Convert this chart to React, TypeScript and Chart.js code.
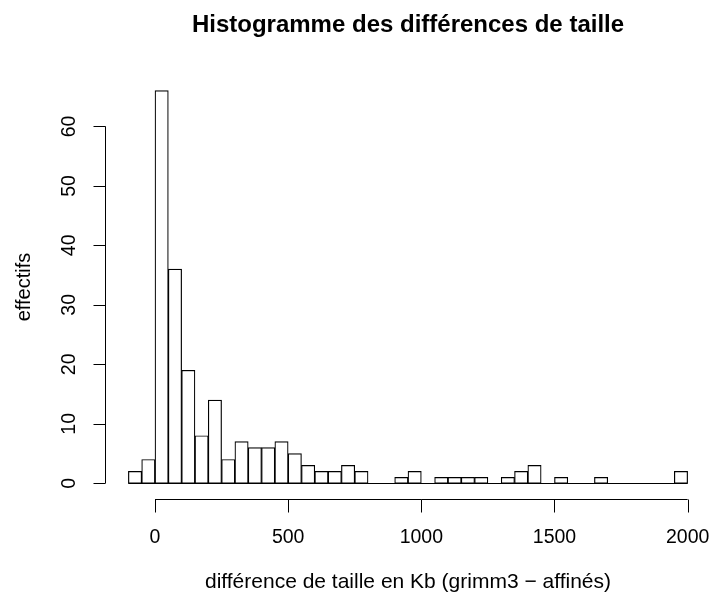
import React, { useEffect, useRef } from "react";
import { Chart, registerables } from "chart.js";

Chart.register(...registerables);

const binStarts = [
  -100, -50, 0, 50, 100, 150, 200, 250, 300, 350, 400, 450, 500, 550, 600, 650,
  700, 750, 800, 850, 900, 950, 1000, 1050, 1100, 1150, 1200, 1250, 1300, 1350,
  1400, 1450, 1500, 1550, 1600, 1650, 1700, 1750, 1800, 1850, 1900, 1950,
];
const counts = [
  2, 4, 66, 36, 19, 8, 14, 4, 7, 6, 6, 7, 5, 3, 2, 2,
  3, 2, 0, 0, 1, 2, 0, 1, 1, 1, 1, 0, 1, 2,
  3, 0, 1, 0, 0, 1, 0, 0, 0, 0, 0, 2,
];
const binWidth = 50;
const xTicks = [0, 500, 1000, 1500, 2000];
const yTicks = [0, 10, 20, 30, 40, 50, 60];
const titleText = "Histogramme des différences de taille";
const xTitle = "différence de taille en Kb (grimm3 − affinés)";
const yTitle = "effectifs";

const FONT = "'Liberation Sans', Arial, Helvetica, sans-serif";

export default function App() {
  const ref = useRef<HTMLCanvasElement | null>(null);

  useEffect(() => {
    const canvas = ref.current;
    if (!canvas) return;

    const rAxes = {
      id: "rAxes",
      afterDraw(chart: any) {
        const ctx = chart.ctx as CanvasRenderingContext2D;
        const xs = chart.scales.x;
        const ys = chart.scales.y;
        const area = chart.chartArea;
        ctx.save();
        ctx.strokeStyle = "#000";
        ctx.fillStyle = "#000";
        ctx.lineWidth = 1;

        // baseline under histogram
        const firstEdge = binStarts[0];
        const lastEdge = binStarts[binStarts.length - 1] + binWidth;
        const y0 = Math.round(ys.getPixelForValue(0)) + 0.5;
        ctx.beginPath();
        ctx.moveTo(xs.getPixelForValue(firstEdge), y0);
        ctx.lineTo(xs.getPixelForValue(lastEdge), y0);
        ctx.stroke();

        // x axis
        const ax = Math.round(area.bottom) + 0.5;
        ctx.beginPath();
        ctx.moveTo(xs.getPixelForValue(xTicks[0]), ax);
        ctx.lineTo(xs.getPixelForValue(xTicks[xTicks.length - 1]), ax);
        xTicks.forEach((t) => {
          const px = Math.round(xs.getPixelForValue(t)) + 0.5;
          ctx.moveTo(px, ax);
          ctx.lineTo(px, ax + 13);
        });
        ctx.stroke();
        ctx.font = `19.5px ${FONT}`;
        ctx.textAlign = "center";
        ctx.textBaseline = "alphabetic";
        xTicks.forEach((t) => {
          ctx.fillText(String(t), xs.getPixelForValue(t), 543);
        });

        // y axis
        const ay = Math.round(area.left) - 0.5;
        ctx.beginPath();
        ctx.moveTo(ay, ys.getPixelForValue(yTicks[0]));
        ctx.lineTo(ay, ys.getPixelForValue(yTicks[yTicks.length - 1]));
        yTicks.forEach((t) => {
          const py = Math.round(ys.getPixelForValue(t)) + 0.5;
          ctx.moveTo(ay, py);
          ctx.lineTo(ay - 12, py);
        });
        ctx.stroke();
        yTicks.forEach((t) => {
          ctx.save();
          ctx.translate(75, ys.getPixelForValue(t));
          ctx.rotate(-Math.PI / 2);
          ctx.fillText(String(t), 0, 0);
          ctx.restore();
        });

        // axis titles
        const cx = (area.left + area.right) / 2;
        ctx.font = `21px ${FONT}`;
        ctx.fillText(xTitle, cx, 588);
        ctx.font = `20px ${FONT}`;
        ctx.save();
        ctx.translate(30, (area.top + area.bottom) / 2);
        ctx.rotate(-Math.PI / 2);
        ctx.fillText(yTitle, 0, 0);
        ctx.restore();

        // main title
        ctx.font = `bold 24px ${FONT}`;
        ctx.fillText(titleText, cx, 32);
        ctx.restore();
      },
    };

    const chart = new Chart(canvas, {
      type: "bar",
      data: {
        datasets: [
          {
            data: binStarts.map((b, i) => ({ x: b + binWidth / 2, y: counts[i] })),
            backgroundColor: "#ffffff",
            borderColor: "#000000",
            borderWidth: 1.2,
            borderSkipped: false,
            barPercentage: 1,
            categoryPercentage: 1,
          },
        ],
      },
      options: {
        animation: false,
        responsive: false,
        maintainAspectRatio: false,
        layout: { padding: { left: 106, right: 3, top: 75, bottom: 95 } },
        plugins: {
          legend: { display: false },
          tooltip: { enabled: false },
          title: { display: false },
        },
        scales: {
          x: { type: "linear", min: -184, max: 2084, display: false, offset: false },
          y: { type: "linear", min: -2.64, max: 68.64, display: false },
        },
      },
      plugins: [rAxes],
    });

    return () => chart.destroy();
  }, []);

  return (
    <div style={{ position: "absolute", left: 0, top: 0, width: 713, height: 594, background: "#fff" }}>
      <canvas ref={ref} width={713} height={594} style={{ display: "block" }} />
    </div>
  );
}
